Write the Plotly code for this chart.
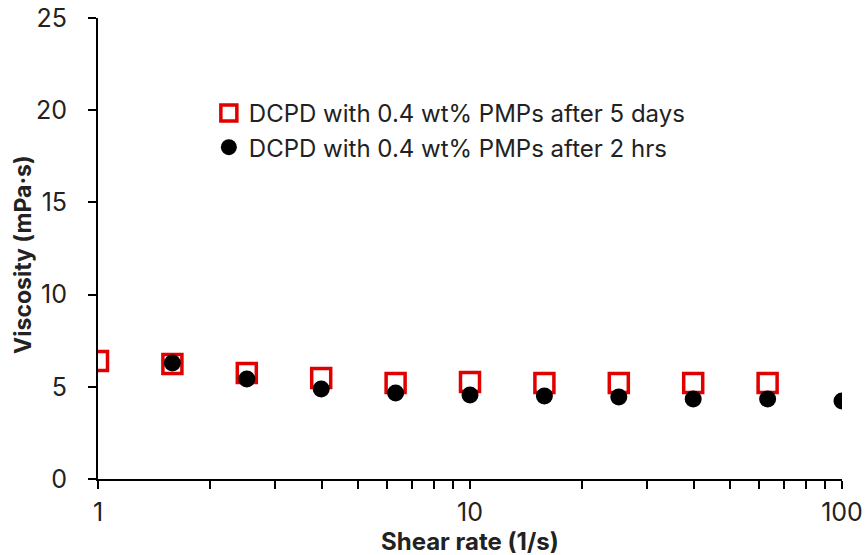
import plotly.graph_objects as go

shear_5d = [1.0, 1.585, 2.512, 3.981, 6.310, 10.0, 15.85, 25.12, 39.81, 63.10]
visc_5d = [6.40, 6.24, 5.75, 5.48, 5.21, 5.26, 5.21, 5.21, 5.21, 5.21]
shear_2h = [1.585, 2.512, 3.981, 6.310, 10.0, 15.85, 25.12, 39.81, 63.10, 100.0]
visc_2h = [6.29, 5.42, 4.88, 4.66, 4.56, 4.50, 4.45, 4.34, 4.34, 4.23]

name_5d = "DCPD with 0.4 wt% PMPs after 5 days"
name_2h = "DCPD with 0.4 wt% PMPs after 2 hrs"

x_tickvals = [1, 2, 3, 4, 5, 6, 7, 8, 9, 10, 20, 30, 40, 50, 60, 70, 80, 90, 100]
x_ticktext = ["1", "", "", "", "", "", "", "", "", "10", "", "", "", "", "", "", "", "", "100"]
y_tickvals = [0, 5, 10, 15, 20, 25]
x_title = "<b>Shear rate (1/s)</b>"
y_title = "<b>Viscosity (mPa·s)</b>"

FONT = "Inter"
TXT = "#222222"

fig = go.Figure()
fig.add_trace(go.Scatter(
    x=shear_5d, y=visc_5d, mode="markers", name=name_5d,
    marker=dict(symbol="square-open", size=19, color="#E00000", line=dict(width=3.5, color="#E00000")),
))
fig.add_trace(go.Scatter(
    x=shear_2h, y=visc_2h, mode="markers", name=name_2h,
    marker=dict(symbol="circle", size=17, color="black"),
))

fig.update_layout(
    width=865, height=555,
    margin=dict(l=98, r=23, t=18, b=76, autoexpand=False),
    paper_bgcolor="white", plot_bgcolor="white",
    font=dict(family=FONT, size=24, color=TXT),
    showlegend=True,
    legend=dict(x=0.149, y=0.842, xanchor="left", yanchor="top",
                bgcolor="rgba(0,0,0,0)", font=dict(size=24, color=TXT),
                itemwidth=30, tracegroupgap=0),
    annotations=[
        dict(text=x_title, xref="paper", yref="paper", x=0.5, y=-0.135,
             xanchor="center", yanchor="middle", showarrow=False,
             font=dict(size=24, color=TXT)),
        dict(text=y_title, xref="paper", yref="paper", x=-0.101, y=0.488,
             xanchor="center", yanchor="middle", textangle=-90, showarrow=False,
             font=dict(size=23, color=TXT)),
    ],
)
fig.update_xaxes(
    type="log", range=[0, 2], automargin=False,
    tickvals=x_tickvals, ticktext=x_ticktext,
    ticks="outside", ticklen=8, tickwidth=2, tickcolor="black",
    ticklabelstandoff=2,
    showline=True, linecolor="black", linewidth=2,
    showgrid=False, zeroline=False,
    tickfont=dict(size=25, color=TXT),
)
fig.update_yaxes(
    range=[0, 25], tickvals=y_tickvals, automargin=False,
    ticks="outside", ticklen=8, tickwidth=2, tickcolor="black",
    ticklabelstandoff=16,
    showline=True, linecolor="black", linewidth=2,
    showgrid=False, zeroline=False,
    tickfont=dict(size=25, color=TXT),
)

fig.write_html("out.html")
